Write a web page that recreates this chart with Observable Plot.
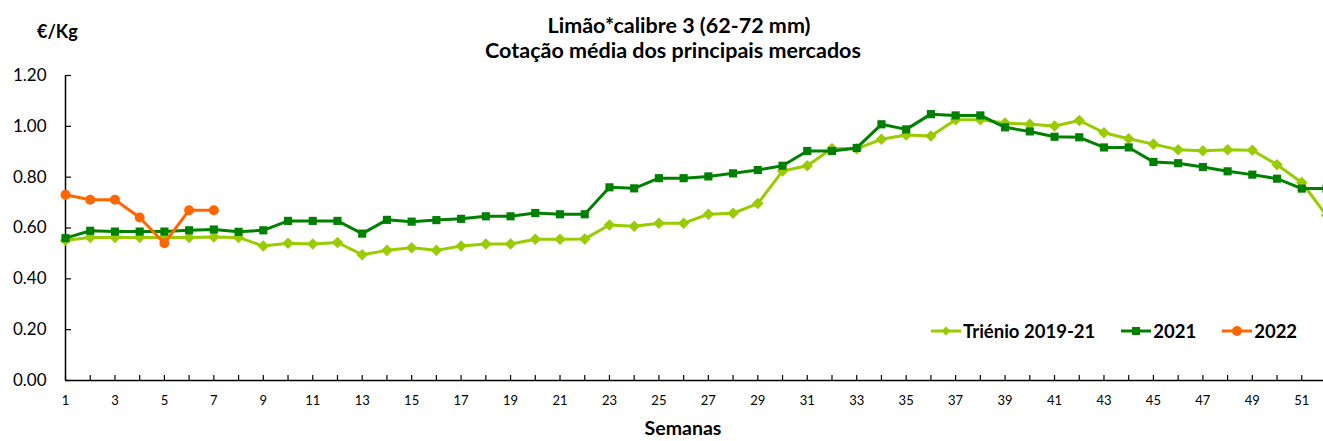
<!DOCTYPE html>
<html><head><meta charset="utf-8">
<script src="https://cdn.jsdelivr.net/npm/d3@7"></script>
<script src="https://cdn.jsdelivr.net/npm/@observablehq/plot@0.6"></script>
<style>
body{margin:0;background:#fff;font-family:Lato,"Open Sans",sans-serif;color:#000;}
#wrap{position:relative;width:1323px;height:441px;overflow:hidden;}
#wrap svg{position:absolute;left:0;top:0;}
.t{position:absolute;font-weight:bold;white-space:nowrap;line-height:1;}
.c{text-align:center;width:600px;}
#legend{position:absolute;left:931px;top:322px;display:flex;align-items:center;font-weight:bold;font-size:18.5px;line-height:1;white-space:nowrap;width:420px;}
#legend .item{display:flex;align-items:center;margin-right:26px;flex:none;}
#legend .item svg{position:static;margin-right:2px;flex:none;}
</style></head><body>
<div id="wrap"></div>
<script>
const weeks = [1,2,3,4,5,6,7,8,9,10,11,12,13,14,15,16,17,18,19,20,21,22,23,24,25,26,27,28,29,30,31,32,33,34,35,36,37,38,39,40,41,42,43,44,45,46,47,48,49,50,51,52];
const trienio = [0.552,0.563,0.563,0.563,0.563,0.563,0.565,0.563,0.529,0.540,
  0.537,0.543,0.495,0.512,0.522,0.512,0.529,0.537,0.537,0.556,
  0.556,0.557,0.612,0.607,0.619,0.619,0.654,0.658,0.696,0.824,
  0.845,0.913,0.912,0.949,0.966,0.962,1.026,1.026,1.013,1.008,
  1.001,1.023,0.975,0.951,0.930,0.908,0.904,0.908,0.906,0.849,
  0.779,0.650];
const y2021 = [0.560,0.589,0.586,0.586,0.586,0.591,0.594,0.585,0.591,0.628,
  0.628,0.628,0.578,0.632,0.625,0.631,0.636,0.646,0.646,0.659,
  0.654,0.654,0.760,0.756,0.796,0.796,0.803,0.815,0.828,0.845,
  0.903,0.903,0.915,1.008,0.988,1.048,1.043,1.043,0.996,0.980,
  0.959,0.957,0.917,0.917,0.860,0.855,0.840,0.823,0.810,0.794,
  0.755,0.755];
const y2022 = [0.731,0.711,0.711,0.641,0.540,0.670,0.670];
const seriesNames = ["Triénio 2019-21","2021","2022"];
const seriesColors = ["#99CC00","#008000","#FF6600"];
const yTicks = [0,0.2,0.4,0.6,0.8,1.0,1.2];
const xLabelTicks = [1,3,5,7,9,11,13,15,17,19,21,23,25,27,29,31,33,35,37,39,41,43,45,47,49,51];

const rows = [];
trienio.forEach((v,i)=>rows.push({week:weeks[i],value:v,series:seriesNames[0]}));
y2021.forEach((v,i)=>rows.push({week:weeks[i],value:v,series:seriesNames[1]}));
y2022.forEach((v,i)=>rows.push({week:weeks[i],value:v,series:seriesNames[2]}));

const diamond = {draw(ctx,size){const s=Math.sqrt(size/2);ctx.moveTo(0,-s);ctx.lineTo(s,0);ctx.lineTo(0,s);ctx.lineTo(-s,0);ctx.closePath();}};
const symbols = [diamond,"square","circle"];
const radii = [4.6,4.6,5];

const marks = [
  Plot.ruleY([0],{stroke:"#000",strokeWidth:1.5}),
  Plot.ruleX([1],{stroke:"#000",strokeWidth:1.5}),
  Plot.axisY({ticks:yTicks,tickSize:-6,tickPadding:25,tickFormat:d=>d.toFixed(2),fontSize:17,stroke:"#000",strokeWidth:1.2,label:null}),
  Plot.axisX({ticks:weeks,tickSize:-5,tickFormat:()=>"",stroke:"#000",strokeWidth:1.2,label:null}),
  Plot.axisX({ticks:xLabelTicks,tickSize:0,tickPadding:15,fontSize:13,label:null})
];
seriesNames.forEach((s,i)=>{
  const d = rows.filter(r=>r.series===s);
  marks.push(Plot.line(d,{x:"week",y:"value",stroke:seriesColors[i],strokeWidth:3}));
  marks.push(Plot.dot(d,{x:"week",y:"value",fill:seriesColors[i],symbol:symbols[i],r:radii[i],stroke:"none"}));
});

const chart = Plot.plot({
  width:1323,height:441,
  marginTop:75,marginBottom:61,marginLeft:65,marginRight:-3,
  style:{fontFamily:"Lato, 'Open Sans', sans-serif",color:"#000",background:"#fff",overflow:"visible"},
  x:{domain:[1,52],label:null},
  y:{domain:[0,1.2],label:null},
  marks
});
const wrap = document.getElementById("wrap");
wrap.appendChild(chart);

function addText(txt,cls,style){const el=document.createElement("div");el.className="t "+cls;el.textContent=txt;Object.assign(el.style,style);wrap.appendChild(el);return el;}
addText("Limão*calibre 3 (62-72 mm)","c",{left:(679-300)+"px",top:"15px",fontSize:"21.5px"});
addText("Cotação média dos principais mercados","c",{left:(673-300)+"px",top:"39.5px",fontSize:"21.5px"});
addText("€/Kg","",{left:"37px",top:"22px",fontSize:"18px"});
addText("Semanas","c",{left:(683-300)+"px",top:"418px",fontSize:"19.5px"});

const legend = document.createElement("div");
legend.id="legend";
seriesNames.forEach((s,i)=>{
  const it=document.createElement("div");it.className="item";
  const ns="http://www.w3.org/2000/svg";
  const sv=document.createElementNS(ns,"svg");sv.setAttribute("width","30");sv.setAttribute("height","12");
  const ln=document.createElementNS(ns,"line");ln.setAttribute("x1","0");ln.setAttribute("x2","30");ln.setAttribute("y1","6");ln.setAttribute("y2","6");ln.setAttribute("stroke",seriesColors[i]);ln.setAttribute("stroke-width","3");sv.appendChild(ln);
  let mk;
  if(i===0){mk=document.createElementNS(ns,"path");mk.setAttribute("d","M15,1.5L19.5,6L15,10.5L10.5,6Z");}
  else if(i===1){mk=document.createElementNS(ns,"rect");mk.setAttribute("x","11");mk.setAttribute("y","2");mk.setAttribute("width","8");mk.setAttribute("height","8");}
  else {mk=document.createElementNS(ns,"circle");mk.setAttribute("cx","15");mk.setAttribute("cy","6");mk.setAttribute("r","5");}
  mk.setAttribute("fill",seriesColors[i]);sv.appendChild(mk);
  it.appendChild(sv);
  const sp=document.createElement("span");sp.textContent=s;it.appendChild(sp);
  legend.appendChild(it);
});
wrap.appendChild(legend);
</script>
</body></html>
